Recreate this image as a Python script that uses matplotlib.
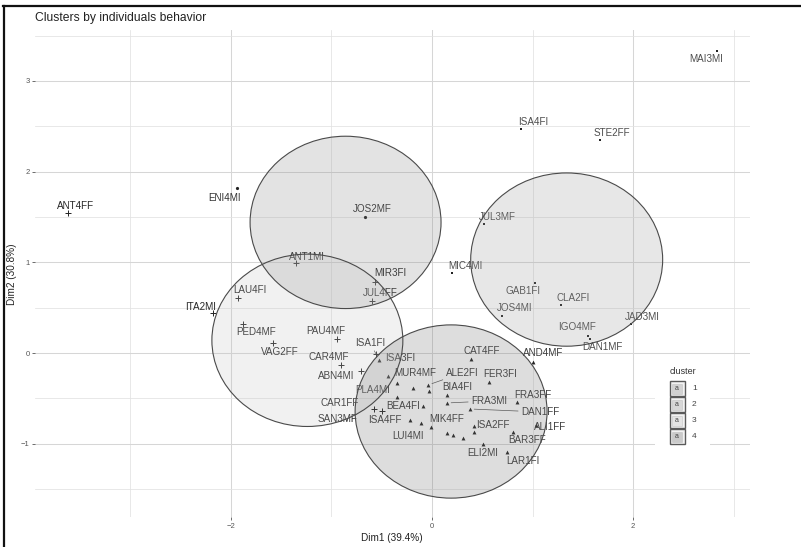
import matplotlib
matplotlib.use("Agg")
import matplotlib.pyplot as plt
from matplotlib.patches import Ellipse, Rectangle
from matplotlib.lines import Line2D

plt.rcParams["font.family"] = ["Liberation Sans", "DejaVu Sans"]

# individuals on the first two dimensions, one list per cluster
top_names = ["ENI4MI", "JOS2MF"]
top_x = [-1.940, -0.667]
top_y = [1.819, 1.499]

right_names = ["MAI3MI", "ISA4FI", "STE2FF", "JUL3MF", "MIC4MI", "GAB1FI",
               "CLA2FI", "JOS4MI", "JAD3MI", "IGO4MF", "DAN1MF"]
right_x = [2.836, 0.886, 1.672, 0.517, 0.199, 1.025, 1.284, 0.697, 1.980, 1.552, 1.572]
right_y = [3.330, 2.470, 2.348, 1.422, 0.882, 0.772, 0.529, 0.408, 0.320, 0.187, 0.154]

left_names = ["ANT4FF", "ANT1MI", "MIR3FI", "JUL4FF", "LAU4FI", "ITA2MI", "PED4MF",
              "VAG2FF", "PAU4MF", "CAR4MF", "ABN4MI", "ISA1FI", "CAR1FF", "SAN3MF"]
left_x = [-3.622, -1.353, -0.567, -0.597, -1.930, -2.179, -1.881,
          -1.582, -0.945, -0.905, -0.706, -0.557, -0.577, -0.498]
left_y = [1.544, 0.992, 0.783, 0.573, 0.606, 0.441, 0.320,
          0.110, 0.154, -0.132, -0.198, -0.011, -0.617, -0.639]

bottom_names = ["ISA3FI", "CAT4FF", "AND4MF", "MUR4MF", "", "ALE2FI", "", "",
                "FER3FI", "BIA4FI", "PLA4MI", "FRA3MI", "DAN1FF", "FRA3FF", "BEA4FI",
                "ISA4FF", "LUI4MI", "MIK4FF", "ISA2FF", "", "", "", "",
                "BAR3FF", "ALI1FF", "ELI2MI", "LAR1FI"]
bottom_x = [-0.527, 0.388, 1.005, -0.438, -0.348, -0.040, -0.030, -0.189,
            0.567, 0.149, -0.348, 0.149, 0.378, 0.846, -0.090,
            -0.219, -0.109, -0.010, 0.418, 0.418, 0.149, 0.209, 0.308,
            0.806, 1.035, 0.507, 0.746]
bottom_y = [-0.077, -0.066, -0.099, -0.254, -0.331, -0.353, -0.419, -0.386,
            -0.320, -0.463, -0.485, -0.551, -0.617, -0.540, -0.584,
            -0.739, -0.772, -0.816, -0.805, -0.871, -0.882, -0.904, -0.937,
            -0.871, -0.794, -1.003, -1.092]

# cluster circles (centre, radius in Dim units)
circ_x = [-0.86, 1.34, -1.24, 0.19]
circ_y = [1.44, 1.03, 0.14, -0.645]
circ_r = [0.95, 0.955, 0.95, 0.955]

cluster_ids = ["1", "2", "3", "4"]

# label placement (pixel offsets, x right / y down) as ggrepel laid them out
offsets = {
    "ENI4MI": (-12, 10), "JOS2MF": (7, -8), "MAI3MI": (-11, 8), "ISA4FI": (12, -7),
    "STE2FF": (12, -7), "JUL3MF": (13, -7), "MIC4MI": (13, -7), "GAB1FI": (-12, 8),
    "CLA2FI": (12, -7), "JOS4MI": (13, -8), "JAD3MI": (11, -7), "IGO4MF": (-11, -9),
    "DAN1MF": (12, 8), "ANT4FF": (8, -7), "ANT1MI": (11, -6), "MIR3FI": (15, -9),
    "JUL4FF": (8, -8), "LAU4FI": (12, -8), "ITA2MI": (-12, -6), "PED4MF": (13, 8),
    "VAG2FF": (7, 9), "PAU4MF": (-11, -8), "CAR4MF": (-12, -8), "ABN4MI": (-25, 5),
    "ISA1FI": (-6, -11), "CAR1FF": (-34, -6), "SAN3MF": (-44, 8), "ISA3FI": (21, -2),
    "CAT4FF": (11, -8), "AND4MF": (10, -9), "MUR4MF": (27, -3), "ALE2FI": (34, -12),
    "FER3FI": (11, -8), "BIA4FI": (10, -8), "PLA4MI": (-24, -7), "FRA3MI": (42, -2),
    "DAN1FF": (70, 3), "FRA3FF": (16, -7), "BEA4FI": (-20, 0), "ISA4FF": (-25, 0),
    "LUI4MI": (-13, 13), "MIK4FF": (16, -8), "ISA2FF": (19, -1), "BAR3FF": (14, 8),
    "ALI1FF": (14, 2), "ELI2MI": (0, 9), "LAR1FI": (16, 9),
}
segments = {"ALE2FI", "FRA3MI", "DAN1FF", "ISA1FI"}

groups = [
    # names, x, y, marker, size, text colour
    (top_names, top_x, top_y, "o", 2.3, "#333333"),
    (right_names, right_x, right_y, "s", 2.1, "#4d4d4d"),
    (left_names, left_x, left_y, "+", 3.8, "#262626"),
    (bottom_names, bottom_x, bottom_y, "^", 2.8, "#3d3d3d"),
]
circ_fill = ["#8a8a8a", "#9a9a9a", "#c4c4c4", "#707070"]

W, H = 801, 547
fig = plt.figure(figsize=(W / 100, H / 100), dpi=100)
L, R, T, B = 35, 750, 30, 517
ax = fig.add_axes([L / W, 1 - B / H, (R - L) / W, (B - T) / H])
ax.set_xlim(-3.95, 3.164)
ax.set_ylim(-1.808, 3.561)

ax.set_xticks([-2, 0, 2])
ax.set_yticks([-1, 0, 1, 2, 3])
ax.set_xticks([-3, -1, 1, 3], minor=True)
ax.set_yticks([-1.5, -0.5, 0.5, 1.5, 2.5, 3.5], minor=True)
ax.grid(which="major", color="#d6d6d6", lw=0.75)
ax.grid(which="minor", color="#e2e2e2", lw=0.55)
ax.set_axisbelow(True)
for s in ax.spines.values():
    s.set_visible(False)
ax.tick_params(which="major", length=2.5, width=0.6, color="#555555",
               labelsize=5.5, labelcolor="#555555", pad=1.5)
ax.tick_params(which="minor", length=0)

for names, xs, ys, mk, ms, tc in groups:
    mew = 0.7 if mk == "+" else 0
    ax.plot(xs, ys, ls="none", marker=mk, ms=ms, color="#222222", mew=mew, zorder=3)
    for n, x, y in zip(names, xs, ys):
        if not n:
            continue
        dx, dy = offsets[n]
        arrow = dict(arrowstyle="-", color="#555555", lw=0.5, shrinkA=0, shrinkB=3) \
            if n in segments else None
        ax.annotate(n, (x, y), xytext=(dx, -dy), textcoords="offset pixels",
                    ha="center", va="center", fontsize=7.1, color=tc,
                    arrowprops=arrow, zorder=3)

for cx, cy, r, fc in zip(circ_x, circ_y, circ_r, circ_fill):
    ax.add_patch(Ellipse((cx, cy), 2 * r, 2 * r, facecolor=fc, alpha=0.23,
                         edgecolor="none", zorder=4))
    ax.add_patch(Ellipse((cx, cy), 2 * r, 2 * r, facecolor="none",
                         edgecolor="#4a4a4a", lw=0.8, zorder=5))

fig.text(L / W, 1 - 18 / H, "Clusters by individuals behavior", fontsize=8.7,
         color="#222222", ha="left", va="center")
fig.text(392 / W, 1 - 538 / H, "Dim1 (39.4%)", fontsize=7.2, color="#222222",
         ha="center", va="center")
fig.text(12 / W, 1 - 274 / H, "Dim2 (30.8%)", fontsize=7.2, color="#222222",
         ha="center", va="center", rotation=90)

# legend panel drawn in pixel units
lg = fig.add_axes([655 / W, 1 - 452 / H, 55 / W, 88 / H])
lg.set_xlim(655, 710)
lg.set_ylim(452, 364)
lg.axis("off")
lg.add_patch(Rectangle((655, 364), 55, 88, facecolor="white", edgecolor="none"))
lg.text(670, 372, "cluster", fontsize=6.5, color="#333333", ha="left", va="center")
for i, (cid, fc) in enumerate(zip(cluster_ids, circ_fill)):
    y0 = 381 + 16 * i
    lg.add_patch(Rectangle((669.5, y0 + 0.5), 15, 15, facecolor="#f2f2f2",
                           edgecolor="#5a5a5a", lw=1.0))
    lg.add_patch(Rectangle((672, y0 + 3), 10, 10, facecolor=fc, alpha=0.3,
                           edgecolor="#8a8a8a", lw=0.5))
    lg.text(677, y0 + 8, "a", fontsize=5, color="#444444", ha="center", va="center")
    lg.text(692, y0 + 8, cid, fontsize=6, color="#444444", ha="left", va="center")

# frame lines along the top and left edge
fig.add_artist(Line2D([3 / W, 1], [1 - 6 / H, 1 - 6 / H], color="#111111", lw=1.6))
fig.add_artist(Line2D([4 / W, 4 / W], [0, 1 - 6 / H], color="#111111", lw=1.6))

fig.savefig("out.png", dpi=100)
